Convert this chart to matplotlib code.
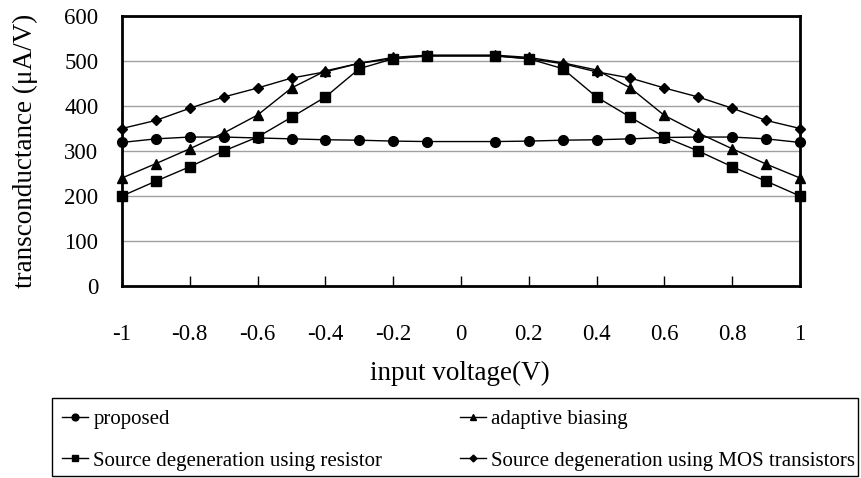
import matplotlib
matplotlib.use("Agg")
import matplotlib.pyplot as plt
from matplotlib.patches import Rectangle

plt.rcParams['font.family'] = ['Liberation Serif', 'DejaVu Serif']
plt.rcParams['axes.unicode_minus'] = False

x = [-1.0, -0.9, -0.8, -0.7, -0.6, -0.5, -0.4, -0.3, -0.2, -0.1,
     0.1, 0.2, 0.3, 0.4, 0.5, 0.6, 0.7, 0.8, 0.9, 1.0]
proposed = [319, 327, 331, 331, 329, 327, 325, 324, 322, 321,
            321, 322, 324, 325, 327, 330, 331, 331, 327, 319]
adaptive = [240, 272, 305, 340, 380, 440, 478, 495, 508, 513,
            513, 508, 496, 480, 440, 379, 340, 305, 271, 240]
resistor = [200, 233, 265, 300, 331, 375, 420, 483, 505, 511,
            511, 505, 483, 420, 375, 331, 300, 265, 233, 200]
mos = [350, 368, 395, 420, 440, 462, 476, 495, 505, 512,
       512, 505, 494, 476, 462, 440, 420, 395, 368, 350]

xticks = [-1, -0.8, -0.6, -0.4, -0.2, 0, 0.2, 0.4, 0.6, 0.8, 1]
xticklabels = ['-1', '-0.8', '-0.6', '-0.4', '-0.2', '0', '0.2', '0.4', '0.6', '0.8', '1']
yticks = [0, 100, 200, 300, 400, 500, 600]

W, H = 861, 478
fig = plt.figure(figsize=(W/100, H/100), dpi=100)
ax = fig.add_axes([122/W, 1-286/H, (800-122)/W, (286-16)/H])

kw = dict(color='black', lw=1.0, clip_on=False, zorder=3)
l1, = ax.plot(x, proposed, marker='o', ms=7, label='proposed', **kw)
l3, = ax.plot(x, resistor, marker='s', ms=6.5, label='Source degeneration using resistor', **kw)
l2, = ax.plot(x, adaptive, marker='^', ms=7, label='adaptive biasing', **kw)
l4, = ax.plot(x, mos, marker='D', ms=5, label='Source degeneration using MOS transistors', **kw)

ax.set_xlim(-1, 1)
ax.set_ylim(0, 600)
ax.set_xticks(xticks)
ax.set_xticklabels(xticklabels, fontsize=16.5)
ax.set_yticks(yticks)
ax.set_yticklabels([str(v) for v in yticks], fontsize=16.5)
ax.tick_params(axis='x', direction='in', length=7, width=1, pad=27)
ax.tick_params(axis='y', length=0, pad=17)
ax.grid(axis='y', color='#a0a0a0', lw=1)
ax.set_axisbelow(True)
for s in ax.spines.values():
    s.set_linewidth(2)
    s.set_color('black')

ax.set_xlabel('input voltage(V)', fontsize=19.5, va='center')
ax.xaxis.set_label_coords((460-122)/678, (286-373)/270)
ax.set_ylabel('transconductance (μA/V)', fontsize=19.5, va='center')
ax.yaxis.set_label_coords((25-122)/678, 0.5)

# legend frame
fig.patches.append(Rectangle((52/W, 1-476/H), (858-52)/W, (476-398)/H,
                             transform=fig.transFigure, fill=False,
                             edgecolor='black', lw=1))

legkw = dict(fontsize=15, frameon=False, handlelength=1.25, handletextpad=0.25,
             borderpad=0, borderaxespad=0, labelspacing=1.05, loc='center left',
             markerscale=0.7)
legA = fig.legend(handles=[l1, l3], bbox_to_anchor=(62/W, 1-440/H), **legkw)
legB = fig.legend(handles=[l2, l4], bbox_to_anchor=(460/W, 1-440/H), **legkw)

fig.savefig('out.png', dpi=100)
